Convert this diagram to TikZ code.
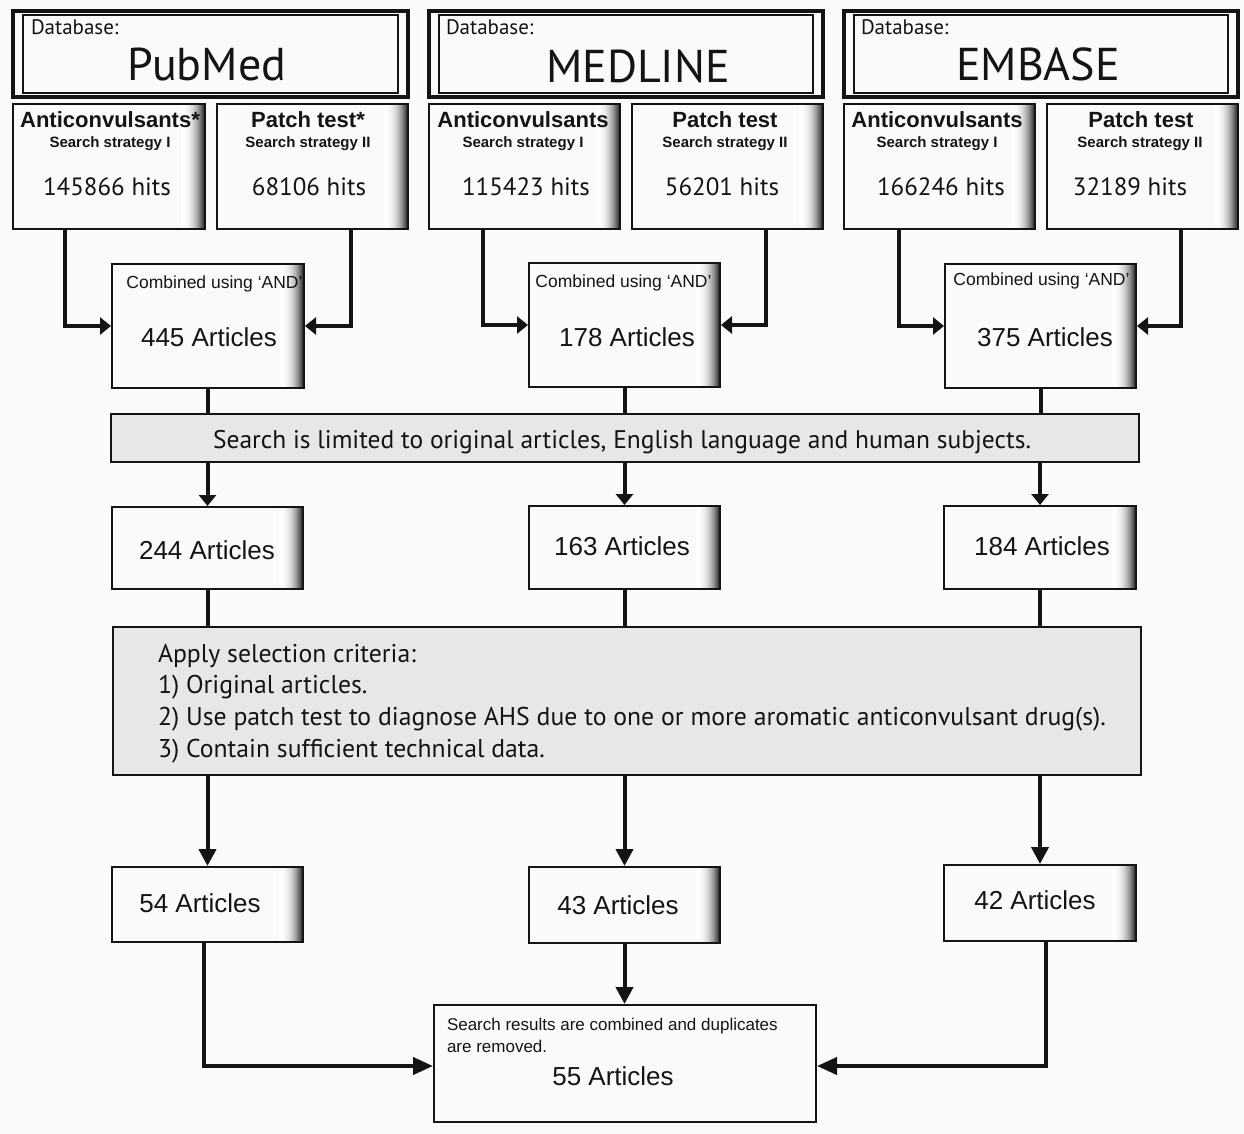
\documentclass[tikz,border=0pt]{standalone}
\usepackage{fontspec}
\setmainfont{PT Sans}
\newfontfamily\arial{Liberation Sans}
\usetikzlibrary{arrows.meta,calc}
\definecolor{bgc}{RGB}{250,250,250}
\definecolor{barc}{RGB}{230,231,232}
\definecolor{ink}{RGB}{20,20,20}
\tikzset{
  dbout/.style={draw=ink, line width=3.5pt, inner sep=0pt},
  dbin/.style={draw=ink, line width=1.3pt, inner sep=0pt},
  plainbox/.style={draw=ink, line width=2pt, inner sep=0pt},
  shbox/.style={plainbox, path picture={
      \foreach \i in {0,...,23}{
        \pgfmathsetmacro{\g}{88*pow((\i+0.5)/24,2.4)}
        \fill[black!\g] ([xshift=\i pt-24pt]path picture bounding box.north east) rectangle ([xshift=\i pt-22.7pt]path picture bounding box.south east);
      }}},
  barbox/.style={draw=ink, line width=2pt, fill=barc, inner sep=0pt},
  txt/.style={inner sep=0pt, outer sep=0pt, anchor=base, text=ink},
  dbl/.style={txt, anchor=base west, font=\fontsize{21}{21}\selectfont},
  big/.style={txt, font=\fontsize{46}{46}\selectfont},
  ttl/.style={txt, font=\arial\bfseries\fontsize{22}{22}\selectfont},
  sub/.style={txt, font=\arial\bfseries\fontsize{15}{15}\selectfont},
  hits/.style={txt, font=\fontsize{25}{25}\selectfont},
  comb/.style={txt, font=\arial\fontsize{17.5}{17.5}\selectfont},
  art/.style={txt, font=\arial\fontsize{26}{26}\selectfont},
  bartxt/.style={txt, font=\fontsize{25.5}{25.5}\selectfont},
  seltxt/.style={txt, anchor=base west, font=\fontsize{25.7}{25.7}\selectfont},
  fintxt/.style={txt, anchor=base west, font=\arial\fontsize{17}{17}\selectfont},
  conn/.style={draw=ink, line width=4pt, line join=miter},
  arrS/.style={-{Triangle[length=11pt,width=17pt]}},
  arrL/.style={-{Triangle[length=17pt,width=17pt]}},
  arrH/.style={-{Triangle[length=20pt,width=17pt]}},
}
\begin{document}
\begin{tikzpicture}[x=1pt,y=-1pt]
\useasboundingbox (0,0) rectangle (1244,1134);
\fill[bgc] (0,0) rectangle (1244,1134);

% database headers
\node[dbout, minimum width=395, minimum height=86] (dbp) at (210.5,54) {};
\node[dbin, minimum width=375, minimum height=78] (dbpi) at (210.5,54) {};
\node[dbl] (dbpl) at (31,35) {Database:};
\node[big] (dbpn) at (207,81) {PubMed};

\node[dbout, minimum width=394, minimum height=86] (dbm) at (626,54) {};
\node[dbin, minimum width=374, minimum height=78] (dbmi) at (626,54) {};
\node[dbl] (dbml) at (446,35) {Database:};
\node[big] (dbmn) at (638,83) {MEDLINE};

\node[dbout, minimum width=394, minimum height=86] (dbe) at (1041,54) {};
\node[dbin, minimum width=374, minimum height=78] (dbei) at (1041,54) {};
\node[dbl] (dbel) at (861,35) {Database:};
\node[big] (dben) at (1038,81) {EMBASE};

% search strategy boxes
\node[shbox, minimum width=192, minimum height=125] (pa) at (109,166.5) {};
\node[shbox, minimum width=191, minimum height=125] (pb) at (312.5,166.5) {};
\node[shbox, minimum width=191, minimum height=125] (ma) at (524.5,166.5) {};
\node[shbox, minimum width=191, minimum height=125] (mb) at (727.5,166.5) {};
\node[shbox, minimum width=191, minimum height=125] (ea) at (939.5,166.5) {};
\node[shbox, minimum width=191, minimum height=125] (eb) at (1142.5,166.5) {};

\node[ttl] (pat) at (110,128) {Anticonvulsants*};
\node[sub] (pas) at (110,147.5) {Search strategy I};
\node[hits] (pah) at (107,196) {145866 hits};
\node[ttl] (pbt) at (308,128) {Patch test*};
\node[sub] (pbs) at (308,147.5) {Search strategy II};
\node[hits] (pbh) at (309,196) {68106 hits};

\node[ttl] (mat) at (523,128) {Anticonvulsants};
\node[sub] (mas) at (523,147.5) {Search strategy I};
\node[hits] (mah) at (526,196) {115423 hits};
\node[ttl] (mbt) at (725,128) {Patch test};
\node[sub] (mbs) at (725,147.5) {Search strategy II};
\node[hits] (mbh) at (722,196) {56201 hits};

\node[ttl] (eat) at (937,128) {Anticonvulsants};
\node[sub] (eas) at (937,147.5) {Search strategy I};
\node[hits] (eah) at (941,196) {166246 hits};
\node[ttl] (ebt) at (1141,128) {Patch test};
\node[sub] (ebs) at (1140,147.5) {Search strategy II};
\node[hits] (ebh) at (1130,196) {32189 hits};

% combined boxes
\node[shbox, minimum width=192, minimum height=124] (pc) at (208,326) {};
\node[shbox, minimum width=191, minimum height=124] (mc) at (624.5,325) {};
\node[shbox, minimum width=191, minimum height=124] (ec) at (1040.5,326) {};
\node[comb] (pcc) at (214.5,288) {Combined using ‘AND’};
\node[art] (pcn) at (209,346) {445 Articles};
\node[comb] (mcc) at (623.5,287) {Combined using ‘AND’};
\node[art] (mcn) at (627,346) {178 Articles};
\node[comb] (ecc) at (1041.5,285) {Combined using ‘AND’};
\node[art] (ecn) at (1045,346) {375 Articles};

% limitation bar
\node[barbox, minimum width=1028, minimum height=48] (bar1) at (625,438) {};
\node[bartxt] (bar1t) at (622,448) {Search is limited to original articles, English language and human subjects.};

% article boxes after limitation
\node[shbox, minimum width=191, minimum height=82] (pd) at (207.5,548) {};
\node[shbox, minimum width=191, minimum height=83] (md) at (624.5,547.5) {};
\node[shbox, minimum width=192, minimum height=83] (ed) at (1040,547.5) {};
\node[art] (pdn) at (207,559) {244 Articles};
\node[art] (mdn) at (622,555) {163 Articles};
\node[art] (edn) at (1042,555) {184 Articles};

% selection criteria
\node[barbox, minimum width=1028, minimum height=148] (sel) at (627,701) {};
\node[seltxt] (sel0) at (158,662) {Apply selection criteria:};
\node[seltxt] (sel1) at (158,693.5) {1) Original articles.};
\node[seltxt] (sel2) at (158,725) {2) Use patch test to diagnose AHS due to one or more aromatic anticonvulsant drug(s).};
\node[seltxt] (sel3) at (158,757) {3) Contain sufficient technical data.};

% final per-database boxes
\node[shbox, minimum width=191, minimum height=75] (pe) at (207.5,904.5) {};
\node[shbox, minimum width=191, minimum height=76] (me) at (624.5,905) {};
\node[shbox, minimum width=192, minimum height=76] (ee) at (1040,903) {};
\node[art] (pen) at (200,912) {54 Articles};
\node[art] (men) at (618,914) {43 Articles};
\node[art] (een) at (1035,909) {42 Articles};

% final combined box
\node[plainbox, minimum width=382, minimum height=117] (fin) at (625,1063.5) {};
\node[fintxt] (fin1) at (447,1030) {Search results are combined and duplicates};
\node[fintxt] (fin2) at (447,1052) {are removed.};
\node[art] (finn) at (613,1085) {55 Articles};

% connectors
\draw[conn,arrS] ([xshift=-44pt]pa.south) |- (pc.west);
\draw[conn,arrS] ([xshift=38.5pt]pb.south) |- (pc.east);
\draw[conn,arrS] ([xshift=-41.5pt]ma.south) |- (mc.west);
\draw[conn,arrS] ([xshift=38.5pt]mb.south) |- (mc.east);
\draw[conn,arrS] ([xshift=-40.5pt]ea.south) |- (ec.west);
\draw[conn,arrS] ([xshift=38.5pt]eb.south) |- (ec.east);

\draw[conn] (pc.south) -- (pc.south |- bar1.north);
\draw[conn] (mc.south) -- (mc.south |- bar1.north);
\draw[conn] (ec.south) -- (ec.south |- bar1.north);

\draw[conn,arrS] (pd.north |- bar1.south) -- (pd.north);
\draw[conn,arrS] (md.north |- bar1.south) -- (md.north);
\draw[conn,arrS] (ed.north |- bar1.south) -- (ed.north);

\draw[conn] (pd.south) -- (pd.south |- sel.north);
\draw[conn] (md.south) -- (md.south |- sel.north);
\draw[conn] (ed.south) -- (ed.south |- sel.north);

\draw[conn,arrL] (pe.north |- sel.south) -- (pe.north);
\draw[conn,arrL] (me.north |- sel.south) -- (me.north);
\draw[conn,arrL] (ee.north |- sel.south) -- (ee.north);

\draw[conn,arrH] ([xshift=-4pt]pe.south) |- ([yshift=-2.5pt]fin.west);
\draw[conn,arrL] (me.south) -- (me.south |- fin.north);
\draw[conn,arrH] ([xshift=6pt]ee.south) |- ([yshift=-2.5pt]fin.east);
\end{tikzpicture}
\end{document}
